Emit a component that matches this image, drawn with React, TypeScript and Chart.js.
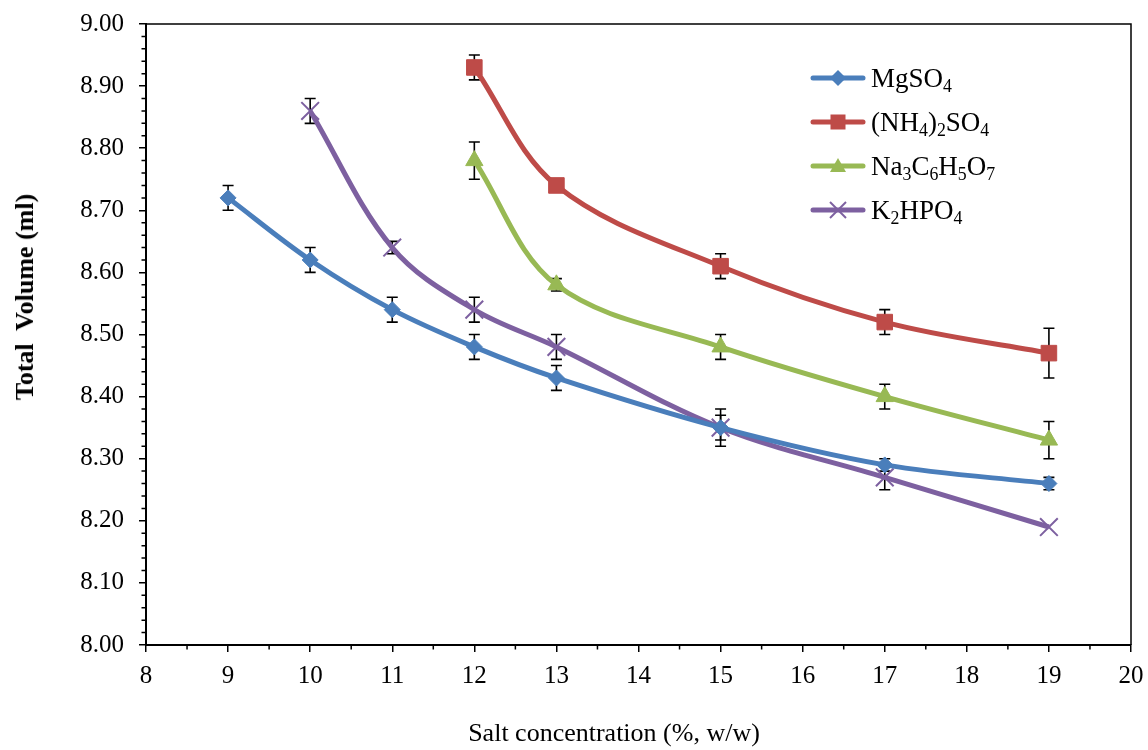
import React, { useEffect, useRef } from "react";
import { Chart, registerables } from "chart.js";

Chart.register(...registerables);

// ---- data ----
const mgX = [9, 10, 11, 12, 13, 15, 17, 19];
const mgY = [8.72, 8.62, 8.54, 8.48, 8.43, 8.35, 8.29, 8.26];
const mgErr = [0.02, 0.02, 0.02, 0.02, 0.02, 0.02, 0.01, 0.01];

const amX = [12, 13, 15, 17, 19];
const amY = [8.93, 8.74, 8.61, 8.52, 8.47];
const amErr = [0.02, 0.01, 0.02, 0.02, 0.04];

const naX = [12, 13, 15, 17, 19];
const naY = [8.78, 8.58, 8.48, 8.4, 8.33];
const naErr = [0.03, 0.01, 0.02, 0.02, 0.03];

const kX = [10, 11, 12, 13, 15, 17, 19];
const kY = [8.86, 8.64, 8.54, 8.48, 8.35, 8.27, 8.19];
const kErr = [0.02, 0.01, 0.02, 0.02, 0.03, 0.02, 0];

// legend labels: [text, isSubscript]
const mgLabel: [string, boolean][] = [["MgSO", false], ["4", true]];
const amLabel: [string, boolean][] = [["(NH", false], ["4", true], [")", false], ["2", true], ["SO", false], ["4", true]];
const naLabel: [string, boolean][] = [["Na", false], ["3", true], ["C", false], ["6", true], ["H", false], ["5", true], ["O", false], ["7", true]];
const kLabel: [string, boolean][] = [["K", false], ["2", true], ["HPO", false], ["4", true]];

const xMin = 8;
const xMax = 20;
const xStep = 1;
const yMin = 8;
const yMax = 9;
const yStep = 0.1;
const yMinorStep = 0.02;
const xMinorStep = 0.5;

const xTitle = "Salt concentration (%, w/w)";
const yTitle = "Total  Volume (ml)";

const BLUE = "#4A7EBB";
const RED = "#BE4B48";
const GREEN = "#98B954";
const PURPLE = "#7D60A0";

const FONT = "'Liberation Serif', 'Times New Roman', serif";

const pts = (xs: number[], ys: number[]) => xs.map((x, i) => ({ x, y: ys[i] }));

const errorBarPlugin = {
  id: "errorBars",
  beforeDatasetsDraw(chart: any) {
    const ctx = chart.ctx;
    const xs = chart.scales.x;
    const ys = chart.scales.y;
    ctx.save();
    ctx.strokeStyle = "#000";
    ctx.lineWidth = 1.6;
    chart.data.datasets.forEach((ds: any) => {
      const errs: number[] = ds.errors || [];
      ds.data.forEach((p: any, i: number) => {
        const e = errs[i];
        if (!e) return;
        const px = xs.getPixelForValue(p.x);
        const t = ys.getPixelForValue(p.y + e);
        const b = ys.getPixelForValue(p.y - e);
        const w = 5.5;
        ctx.beginPath();
        ctx.moveTo(px, t);
        ctx.lineTo(px, b);
        ctx.moveTo(px - w, t);
        ctx.lineTo(px + w, t);
        ctx.moveTo(px - w, b);
        ctx.lineTo(px + w, b);
        ctx.stroke();
      });
    });
    ctx.restore();
  },
};

const framePlugin = {
  id: "frame",
  afterDraw(chart: any) {
    const ctx = chart.ctx;
    const { left, right, top, bottom } = chart.chartArea;
    const xs = chart.scales.x;
    const ys = chart.scales.y;
    ctx.save();
    ctx.strokeStyle = "#000";
    ctx.lineWidth = 1.5;
    // top + right border
    ctx.beginPath();
    ctx.moveTo(left, top);
    ctx.lineTo(right, top);
    ctx.lineTo(right, bottom);
    ctx.stroke();
    // minor ticks
    ctx.beginPath();
    const nY = Math.round((yMax - yMin) / yMinorStep);
    for (let i = 0; i <= nY; i++) {
      if (i % Math.round(yStep / yMinorStep) === 0) continue;
      const py = ys.getPixelForValue(yMin + i * yMinorStep);
      ctx.moveTo(left, py);
      ctx.lineTo(left - 4.5, py);
    }
    const nX = Math.round((xMax - xMin) / xMinorStep);
    for (let i = 0; i <= nX; i++) {
      if (i % Math.round(xStep / xMinorStep) === 0) continue;
      const px = xs.getPixelForValue(xMin + i * xMinorStep);
      ctx.moveTo(px, bottom);
      ctx.lineTo(px, bottom + 4.5);
    }
    ctx.stroke();
    ctx.restore();
  },
};

function Marker({ kind, color }: { kind: string; color: string }) {
  const cx = 28;
  const cy = 15;
  let shape: any = null;
  if (kind === "diamond") {
    shape = <polygon points={`${cx},${cy - 8} ${cx + 8},${cy} ${cx},${cy + 8} ${cx - 8},${cy}`} fill={color} />;
  } else if (kind === "square") {
    shape = <rect x={cx - 7.5} y={cy - 7.5} width={15} height={15} fill={color} />;
  } else if (kind === "triangle") {
    shape = <polygon points={`${cx},${cy - 8} ${cx + 8},${cy + 6} ${cx - 8},${cy + 6}`} fill={color} />;
  } else {
    shape = (
      <g stroke={color} strokeWidth={2}>
        <line x1={cx - 8} y1={cy - 8} x2={cx + 8} y2={cy + 8} />
        <line x1={cx - 8} y1={cy + 8} x2={cx + 8} y2={cy - 8} />
      </g>
    );
  }
  return (
    <svg width={56} height={30} style={{ display: "block" }}>
      <line x1={3} y1={cy} x2={53} y2={cy} stroke={color} strokeWidth={5} strokeLinecap="round" />
      {shape}
    </svg>
  );
}

function LegendText({ parts }: { parts: [string, boolean][] }) {
  return (
    <span style={{ fontFamily: FONT, fontSize: 27, color: "#000", whiteSpace: "nowrap", lineHeight: "30px" }}>
      {parts.map(([t, sub], i) =>
        sub ? (
          <sub key={i} style={{ fontSize: "0.66em", verticalAlign: "-0.28em", lineHeight: 0 }}>
            {t}
          </sub>
        ) : (
          <span key={i}>{t}</span>
        )
      )}
    </span>
  );
}

const legendItems = [
  { parts: mgLabel, kind: "diamond", color: BLUE, cy: 78 },
  { parts: amLabel, kind: "square", color: RED, cy: 122 },
  { parts: naLabel, kind: "triangle", color: GREEN, cy: 166 },
  { parts: kLabel, kind: "cross", color: PURPLE, cy: 210 },
];

export default function App() {
  const ref = useRef<HTMLCanvasElement | null>(null);

  useEffect(() => {
    if (!ref.current) return;
    const mk = (label: string, xs: number[], ys: number[], errs: number[], color: string, style: string, radius: number, bw: number) => ({
      label,
      data: pts(xs, ys),
      errors: errs,
      borderColor: color,
      backgroundColor: color,
      borderWidth: 5,
      tension: 0.35,
      pointStyle: style,
      pointRadius: radius,
      pointHoverRadius: radius,
      pointBackgroundColor: color,
      pointBorderColor: color,
      pointBorderWidth: bw,
      showLine: true,
      fill: false,
    });
    const chart = new Chart(ref.current, {
      type: "scatter",
      data: {
        datasets: [
          mk("MgSO4", mgX, mgY, mgErr, BLUE, "rectRot", 8, 1),
          mk("(NH4)2SO4", amX, amY, amErr, RED, "rect", 11, 1),
          mk("Na3C6H5O7", naX, naY, naErr, GREEN, "triangle", 10, 1),
          mk("K2HPO4", kX, kY, kErr, PURPLE, "crossRot", 12.5, 2),
        ] as any,
      },
      options: {
        animation: false,
        responsive: false,
        devicePixelRatio: 1,
        layout: { padding: { left: 0, top: 24, right: 17, bottom: 0 } },
        plugins: { legend: { display: false }, tooltip: { enabled: false } },
        events: [],
        scales: {
          x: {
            type: "linear",
            min: xMin,
            max: xMax,
            afterFit: (s: any) => {
              s.height = 105;
              s.paddingLeft = 0;
              s.paddingRight = 0;
            },
            ticks: {
              stepSize: xStep,
              color: "#000",
              font: { family: FONT, size: 25 },
              padding: 9,
              maxRotation: 0,
            },
            grid: { drawOnChartArea: false, drawTicks: true, tickLength: 7, color: "#000", lineWidth: 1.5 },
            border: { display: true, color: "#000", width: 2 },
          },
          y: {
            type: "linear",
            min: yMin,
            max: yMax,
            afterFit: (s: any) => {
              s.width = 146;
              s.paddingTop = 0;
              s.paddingBottom = 0;
            },
            ticks: {
              stepSize: yStep,
              color: "#000",
              font: { family: FONT, size: 25 },
              padding: 15,
              callback: (v: any) => Number(v).toFixed(2),
            },
            grid: { drawOnChartArea: false, drawTicks: true, tickLength: 7, color: "#000", lineWidth: 1.5 },
            border: { display: true, color: "#000", width: 2 },
          },
        },
      } as any,
      plugins: [errorBarPlugin, framePlugin],
    });
    return () => chart.destroy();
  }, []);

  return (
    <div style={{ position: "fixed", left: 0, top: 0, width: 1148, height: 750, background: "#fff" }}>
      <canvas ref={ref} width={1148} height={750} style={{ position: "absolute", left: 0, top: 0 }} />
      {legendItems.map((it, i) => (
        <div
          key={i}
          style={{ position: "absolute", left: 810, top: it.cy - 15, height: 30, display: "flex", alignItems: "center" }}
        >
          <Marker kind={it.kind} color={it.color} />
          <div style={{ marginLeft: 5 }}>
            <LegendText parts={it.parts} />
          </div>
        </div>
      ))}
      <div
        style={{
          position: "absolute",
          left: 614,
          top: 733,
          transform: "translate(-50%, -50%)",
          fontFamily: FONT,
          fontSize: 26,
          lineHeight: "30px",
          whiteSpace: "nowrap",
          color: "#000",
        }}
      >
        {xTitle}
      </div>
      <div
        style={{
          position: "absolute",
          left: 25,
          top: 297,
          transform: "translate(-50%, -50%) rotate(-90deg)",
          fontFamily: FONT,
          fontSize: 26,
          fontWeight: "bold",
          lineHeight: "30px",
          whiteSpace: "pre",
          color: "#000",
        }}
      >
        {yTitle}
      </div>
    </div>
  );
}
